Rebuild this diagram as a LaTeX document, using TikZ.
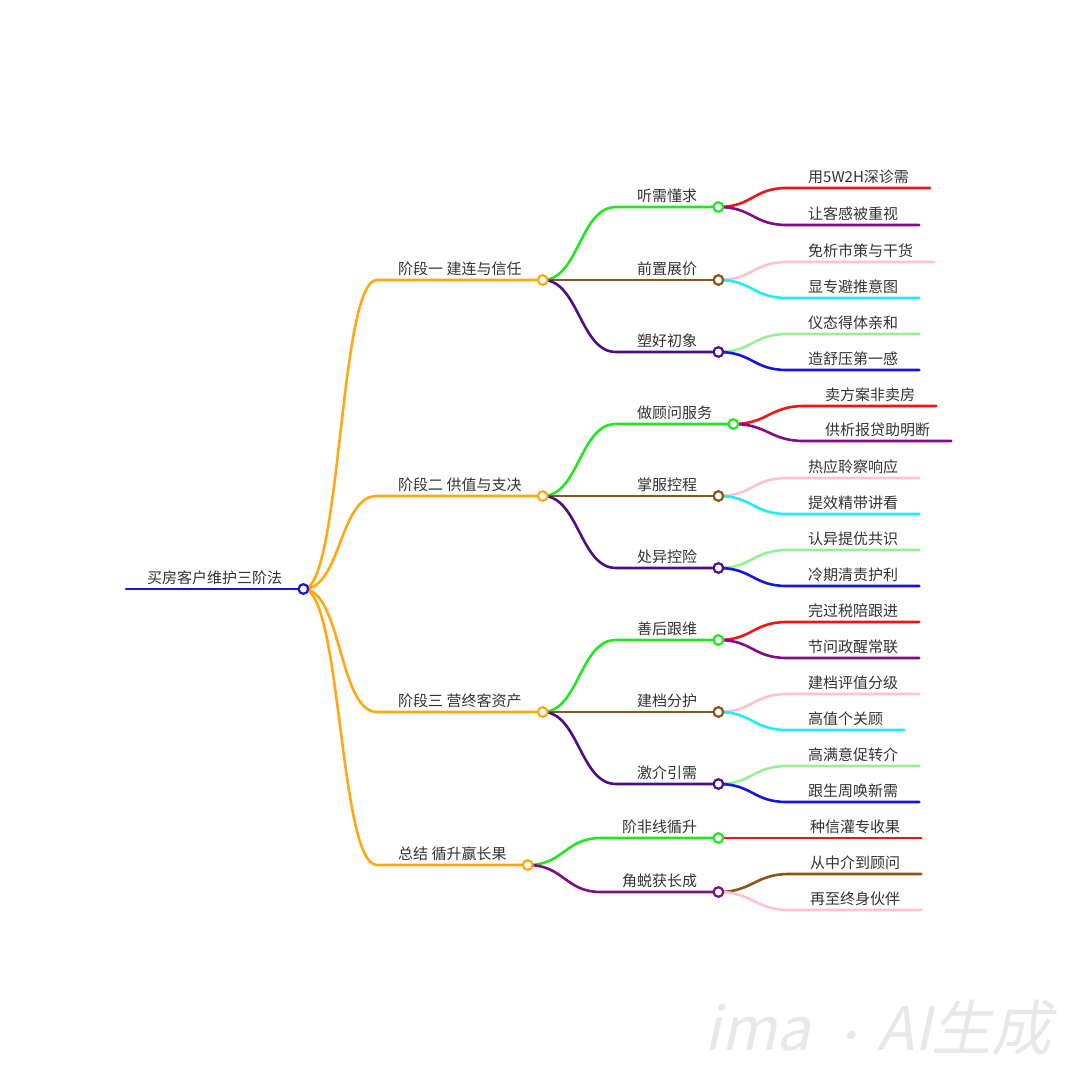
\documentclass[tikz,border=0pt]{standalone}
\usepackage{fontspec}
\setmainfont{Noto Sans CJK SC}
\newfontfamily\wmfont[FakeSlant=0.22]{Noto Sans CJK SC}
\usepackage{tikz}

\definecolor{mmblue}{HTML}{1414E6}
\definecolor{mmorange}{HTML}{FFA814}
\definecolor{mmlime}{HTML}{22E622}
\definecolor{mmbrown}{HTML}{8B5518}
\definecolor{mmindigo}{HTML}{4E0F86}
\definecolor{mmred}{HTML}{F01414}
\definecolor{mmpurple}{HTML}{800C86}
\definecolor{mmpink}{HTML}{FFC2CE}
\definecolor{mmcyan}{HTML}{22EEF2}
\definecolor{mmlgreen}{HTML}{96F096}
\definecolor{mmtext}{HTML}{333333}
\definecolor{mmwater}{HTML}{E8E8E8}

\tikzset{
  topic/.style={font=\fontsize{15}{17}\selectfont, text=mmtext,
    inner xsep=21pt, inner ysep=4pt, text height=11.5pt, text depth=1.5pt,
    anchor=south west},
  branch/.style={line width=2.6pt, line cap=round},
  dot/.style={line width=2.2pt, fill=white},
}

\begin{document}
\begin{tikzpicture}[x=1pt,y=-1pt]

    \useasboundingbox[fill=white] (0,0) rectangle (1080,1080);

    % Root
    \node[topic] (root) at (126,589) {买房客户维护三阶法};

    % Stages
    \node[topic] (s1) at (377,280) {阶段一 建连与信任};
    \node[topic] (s2) at (377,496) {阶段二 供值与支决};
    \node[topic] (s3) at (377,712) {阶段三 营终客资产};
    \node[topic] (s4) at (377,865) {总结 循升赢长果};

    % Second level
    \node[topic] (a1) at (616,207) {听需懂求};
    \node[topic] (a2) at (616,280) {前置展价};
    \node[topic] (a3) at (616,352) {塑好初象};
    \node[topic] (b1) at (616,424) {做顾问服务};
    \node[topic] (b2) at (616,496) {掌服控程};
    \node[topic] (b3) at (616,568) {处异控险};
    \node[topic] (c1) at (616,640) {善后跟维};
    \node[topic] (c2) at (616,712) {建档分护};
    \node[topic] (c3) at (616,784) {激介引需};
    \node[topic] (d1) at (601,838) {阶非线循升};
    \node[topic] (d2) at (601,892) {角蜕获长成};

    % Leaves
    \node[topic] (a11) at (787,188) {用5W2H深诊需};
    \node[topic] (a12) at (787,225) {让客感被重视};
    \node[topic] (a21) at (787,262) {免析市策与干货};
    \node[topic] (a22) at (787,298) {显专避推意图};
    \node[topic] (a31) at (787,334) {仪态得体亲和};
    \node[topic] (a32) at (787,370) {造舒压第一感};
    \node[topic] (b11) at (804,406) {卖方案非卖房};
    \node[topic] (b12) at (804,441) {供析报贷助明断};
    \node[topic] (b21) at (787,478) {热应聆察响应};
    \node[topic] (b22) at (787,514) {提效精带讲看};
    \node[topic] (b31) at (787,550) {认异提优共识};
    \node[topic] (b32) at (787,586) {冷期清责护利};
    \node[topic] (c11) at (787,622) {完过税陪跟进};
    \node[topic] (c12) at (787,658) {节问政醒常联};
    \node[topic] (c21) at (787,694) {建档评值分级};
    \node[topic] (c22) at (787,730) {高值个关顾};
    \node[topic] (c31) at (787,766) {高满意促转介};
    \node[topic] (c32) at (787,802) {跟生周唤新需};
    \node[topic] (d11) at (789,838) {种信灌专收果};
    \node[topic] (d21) at (789,874) {从中介到顾问};
    \node[topic] (d22) at (789,910) {再至终身伙伴};

    % Root underline
    \draw[branch, mmblue] (root.south west) -- (root.south east);

    % Root to stages
    \foreach \c in {s1,s2,s3,s4}
        \draw[branch, mmorange] (root.south east) .. controls +(38,0) and +(-38,0) .. (\c.south west) -- (\c.south east);

    % Stages to second level
    \foreach \p/\c/\col in {s1/a1/mmlime, s1/a2/mmbrown, s1/a3/mmindigo,
                            s2/b1/mmlime, s2/b2/mmbrown, s2/b3/mmindigo,
                            s3/c1/mmlime, s3/c2/mmbrown, s3/c3/mmindigo,
                            s4/d1/mmlime, s4/d2/mmpurple}
        \draw[branch, \col] (\p.south east) .. controls +(36,0) and +(-36,0) .. (\c.south west) -- (\c.south east);

    % Second level to leaves
    \foreach \p/\c/\col in {a1/a11/mmred, a1/a12/mmpurple, a2/a21/mmpink, a2/a22/mmcyan,
                            a3/a31/mmlgreen, a3/a32/mmblue,
                            b1/b11/mmred, b1/b12/mmpurple, b2/b21/mmpink, b2/b22/mmcyan,
                            b3/b31/mmlgreen, b3/b32/mmblue,
                            c1/c11/mmred, c1/c12/mmpurple, c2/c21/mmpink, c2/c22/mmcyan,
                            c3/c31/mmlgreen, c3/c32/mmblue,
                            d1/d11/mmred, d2/d21/mmbrown, d2/d22/mmpink}
        \draw[branch, \col] (\p.south east) .. controls +(34,0) and +(-34,0) .. (\c.south west) -- (\c.south east);

    % Knots
    \foreach \n/\col in {root/mmblue, s1/mmorange, s2/mmorange, s3/mmorange, s4/mmorange,
                         a1/mmlime, a2/mmbrown, a3/mmindigo,
                         b1/mmlime, b2/mmbrown, b3/mmindigo,
                         c1/mmlime, c2/mmbrown, c3/mmindigo,
                         d1/mmlime, d2/mmpurple}
        \draw[dot, draw=\col] (\n.south east) circle (4.8);

    % Watermark
    \node[font=\wmfont\fontsize{60}{60}\selectfont, text=mmwater, anchor=south east, inner sep=0pt]
        (wm) at (1052,1056) {ima\hspace{18pt}{\fontsize{40}{40}\selectfont ·}\hspace{9pt}AI生成};

\end{tikzpicture}
\end{document}
